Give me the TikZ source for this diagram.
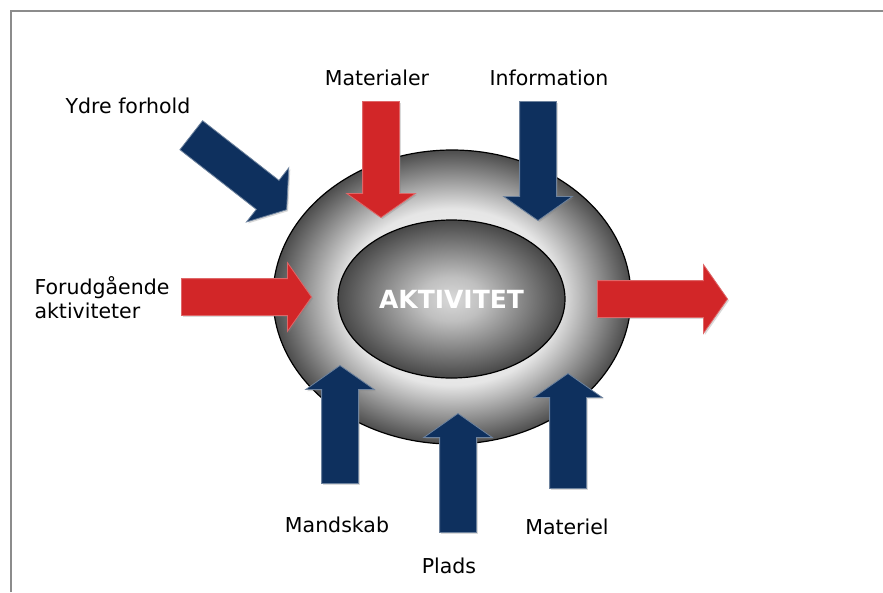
\documentclass[tikz,border=0pt]{standalone}
\usepackage{fontspec}
\setmainfont{DejaVu Sans}
\usetikzlibrary{shapes.geometric,shapes.arrows,shadows}
\definecolor{arrowred}{RGB}{210,38,40}
\definecolor{arrowblue}{RGB}{14,48,94}
\pgfdeclareradialshading{ringshade}{\pgfpoint{0bp}{0bp}}{color(0bp)=(white); color(15bp)=(black!10); color(25bp)=(black!70); color(50bp)=(black!70)}
\pgfdeclareradialshading{coreshade}{\pgfpoint{0bp}{0bp}}{color(0bp)=(black!15); color(7bp)=(black!25); color(25bp)=(black!72); color(50bp)=(black!72)}
\tikzset{
  labeltext/.style={font=\fontsize{20.5}{24}\selectfont},
  blockarrow/.style={single arrow, inner xsep=0pt, inner ysep=18pt, single arrow head extend=16pt,
    single arrow tip angle=110, minimum height=#1, anchor=tip, line width=0.8pt,
    drop shadow={opacity=.3, shadow xshift=1.5pt, shadow yshift=-1.5pt}},
  redarrow/.style={blockarrow=#1, fill=arrowred, draw=arrowred!70!white},
  bluearrow/.style={blockarrow=#1, fill=arrowblue, draw=arrowblue!60!white},
}
\begin{document}
\begin{tikzpicture}[x=1pt,y=-1pt]
\useasboundingbox (0,0) rectangle (883,592);
\draw[black!45, line width=2.5pt] (11,592) -- (11,11) -- (883,11);

\node[ellipse, draw=black, line width=1.2pt, shading=ringshade, minimum width=358pt, minimum height=294pt] (ring) at (452,297) {};
\node[ellipse, draw=black, line width=1.2pt, shading=coreshade, minimum width=227pt, minimum height=158pt,
  text=white, font=\fontsize{25}{30}\selectfont\bfseries] (core) at (451.5,299) {AKTIVITET};

\node[labeltext] (ydre) at (128,106) {Ydre forhold};
\node[labeltext] (materialer) at (377,78) {Materialer};
\node[labeltext] (information) at (549,78) {Information};
\node[labeltext, align=left, anchor=west] (forud) at (31,298) {Forudgående\\aktiviteter};
\node[labeltext] (mandskab) at (337,525) {Mandskab};
\node[labeltext] (plads) at (449,566) {Plads};
\node[labeltext] (materiel) at (567,527) {Materiel};

\node[redarrow=116, rotate=-90] (a-materialer) at (381,218) {};
\node[bluearrow=119, rotate=-90] (a-information) at (538,221) {};
\node[bluearrow=121, rotate=-38] (a-ydre) at (287,210) {};
\node[redarrow=130] (a-forud) at (312,297) {};
\node[redarrow=130] (a-output) at (728,299) {};
\node[bluearrow=118, rotate=90] (a-mandskab) at (340,365) {};
\node[bluearrow=119, rotate=90] (a-plads) at (458,413) {};
\node[bluearrow=115, rotate=90] (a-materiel) at (568,373) {};
\end{tikzpicture}
\end{document}
